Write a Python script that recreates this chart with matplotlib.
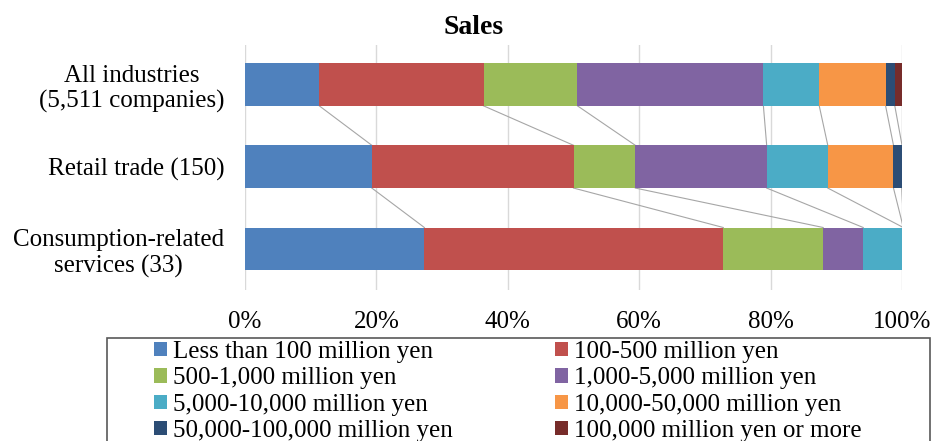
import numpy as np
import matplotlib.pyplot as plt
from matplotlib.patches import Rectangle

plt.rcParams['font.family'] = ['Liberation Serif', 'DejaVu Serif']

# Share of companies by sales size (%)
groups = ['All industries\n(5,511 companies)', 'Retail trade (150)',
          'Consumption-related\nservices (33)']
size_classes = ['Less than 100 million yen', '100-500 million yen',
                '500-1,000 million yen', '1,000-5,000 million yen',
                '5,000-10,000 million yen', '10,000-50,000 million yen',
                '50,000-100,000 million yen', '100,000 million yen or more']
all_industries = [11.3, 25.0, 14.3, 28.3, 8.5, 10.1, 1.4, 1.1]
retail_trade = [19.3, 30.7, 9.4, 20.0, 9.3, 10.0, 1.3, 0.0]
consumption_services = [27.3, 45.5, 15.2, 6.1, 6.1, 0.0, 0.0, 0.0]
colors = ['#4F81BD', '#C0504D', '#9BBB59', '#8064A2',
          '#4BACC6', '#F79646', '#2C4D75', '#772C2A']

shares = np.array([all_industries, retail_trade, consumption_services])
cum = np.cumsum(shares, axis=1)
left = cum - shares

fig = plt.figure(figsize=(9.33, 4.41), dpi=100)
ax = fig.add_axes([0.2626, 0.3424, 0.7042, 0.5556])

bar_h = 0.52
y = np.arange(len(groups))
handles = []
for i, name in enumerate(size_classes):
    b = ax.barh(y, shares[:, i], left=left[:, i], height=bar_h,
                color=colors[i], label=name, zorder=3)
    handles.append(b)

# series lines joining segment boundaries of neighbouring bars
for r in range(len(groups) - 1):
    for i in range(len(size_classes)):
        ax.plot([cum[r, i], cum[r + 1, i]],
                [y[r] + bar_h / 2, y[r + 1] - bar_h / 2],
                color='#A6A6A6', lw=0.8, zorder=2)

ax.set_xlim(0, 100)
ax.set_ylim(2.5, -0.48)
ax.set_xticks(np.arange(0, 101, 20))
ax.set_xticklabels([f'{v}%' for v in range(0, 101, 20)], fontsize=18)
ax.set_yticks(y)
ax.set_yticklabels(groups, fontsize=18, multialignment='center', linespacing=1.2)
ax.tick_params(length=0, pad=15, axis='y')
ax.tick_params(length=0, pad=15, axis='x')
ax.grid(axis='x', color='#D9D9D9', lw=1, zorder=0)
for s in ax.spines.values():
    s.set_visible(False)

fig.text(474 / 933, 1 - 27 / 441, 'Sales', fontsize=20, fontweight='bold',
         ha='center', va='center')

# legend box, lower edge runs past the figure
fig.patches.append(Rectangle((107 / 933, -0.05), (930 - 107) / 933, 0.05 + (441 - 338) / 441,
                             transform=fig.transFigure, fill=False,
                             edgecolor='#595959', lw=1.2))
order = [0, 2, 4, 6, 1, 3, 5, 7]
fig.legend([handles[k] for k in order], [size_classes[k] for k in order],
           ncol=2, loc='upper left', bbox_to_anchor=(154 / 933, 1 - 341 / 441),
           frameon=False, fontsize=18, handlelength=0.5, handleheight=0.5,
           handletextpad=0.25, columnspacing=4.1, labelspacing=0.17,
           borderpad=0, borderaxespad=0)

fig.savefig('out.png', dpi=100)
